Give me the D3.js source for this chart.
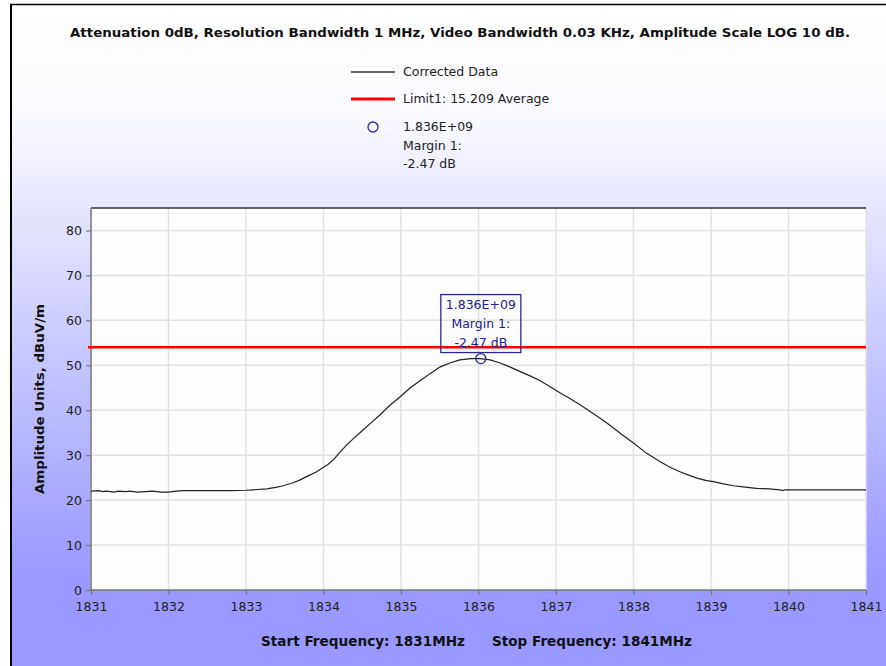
<!DOCTYPE html>
<html><head><meta charset="utf-8">
<script src="https://cdn.jsdelivr.net/npm/d3@7"></script>
<style>html,body{margin:0;padding:0;background:#fff;}svg{display:block;}</style>
</head><body>
<script>
// ---- data ----
const titleText = "Attenuation 0dB, Resolution Bandwidth 1 MHz, Video Bandwidth 0.03 KHz, Amplitude Scale LOG 10 dB.";
const freqs = [1831.0,1831.1,1831.15,1831.2,1831.3,1831.35,1831.45,1831.5,1831.6,1831.7,1831.8,1831.9,1832.0,1832.1,1832.2,1832.4,1832.6,1832.8,1833.0,1833.1,1833.27,1833.4,1833.48,1833.6,1833.7,1833.8,1833.9,1833.98,1834.06,1834.13,1834.2,1834.3,1834.4,1834.51,1834.62,1834.73,1834.85,1834.99,1835.12,1835.25,1835.38,1835.5,1835.63,1835.76,1835.9,1836.02,1836.15,1836.28,1836.41,1836.54,1836.66,1836.79,1836.92,1837.05,1837.18,1837.31,1837.44,1837.57,1837.7,1837.85,1838.0,1838.17,1838.34,1838.47,1838.6,1838.72,1838.82,1838.93,1839.03,1839.16,1839.29,1839.44,1839.59,1839.75,1839.89,1839.92,1839.95,1840.2,1840.6,1841.0];
const amplitudes = [22.0,22.1,21.9,22.0,21.8,22.0,21.9,22.0,21.8,21.9,22.0,21.8,21.8,22.0,22.1,22.1,22.1,22.1,22.2,22.3,22.5,22.9,23.2,23.8,24.5,25.4,26.2,27.1,28.0,29.0,30.4,32.3,33.9,35.6,37.3,39.0,41.0,43.0,45.0,46.6,48.2,49.6,50.5,51.2,51.5,51.5,51.2,50.5,49.6,48.6,47.7,46.6,45.3,43.9,42.6,41.2,39.7,38.2,36.6,34.6,32.7,30.4,28.6,27.3,26.3,25.5,24.9,24.4,24.1,23.6,23.2,22.9,22.6,22.5,22.3,22.1,22.3,22.3,22.3,22.3];
const limitValue = 54;
const markerFreq = 1836.03;
const markerValue = 51.5;
const markerLines = ["1.836E+09", "Margin 1:", "-2.47 dB"];
const legendLabels = ["Corrected Data", "Limit1: 15.209 Average"];
const xTicks = [1831,1832,1833,1834,1835,1836,1837,1838,1839,1840,1841];
const yTicks = [0,10,20,30,40,50,60,70,80];
const yLabel = "Amplitude Units, dBuV/m";
const startLabel = "Start Frequency: 1831MHz";
const stopLabel = "Stop Frequency: 1841MHz";

// ---- layout ----
const W = 886, H = 666;
const L = 91, R = 866, T = 208, B = 590;
const svg = d3.select("body").append("svg").attr("width", W).attr("height", H);
const defs = svg.append("defs");
const grad = defs.append("linearGradient").attr("id","bg").attr("gradientUnits","userSpaceOnUse")
  .attr("x1",0).attr("y1",0).attr("x2",0).attr("y2",H);
grad.append("stop").attr("offset",0).attr("stop-color","#ffffff");
grad.append("stop").attr("offset",0.165).attr("stop-color","#fbfbff");
grad.append("stop").attr("offset",0.86).attr("stop-color","#9999ff");
grad.append("stop").attr("offset",1).attr("stop-color","#9999ff");

svg.append("rect").attr("x",11).attr("y",5).attr("width",W-11).attr("height",H-5).attr("fill","url(#bg)");
svg.append("line").attr("x1",11).attr("x2",11).attr("y1",4).attr("y2",H).attr("stroke","#000").attr("stroke-width",2);
svg.append("line").attr("x1",10).attr("x2",W).attr("y1",4.5).attr("y2",4.5).attr("stroke","#000").attr("stroke-width",1.5);

const x = d3.scaleLinear().domain([1831,1841]).range([L,R]);
const y = d3.scaleLinear().domain([0,85]).range([B,T]);

// plot background
svg.append("rect").attr("x",L).attr("y",T).attr("width",R-L).attr("height",B-T).attr("fill","#fdfdfd");

// grid
const g = svg.append("g");
g.selectAll(".vg").data(xTicks).join("line")
  .attr("x1",d=>x(d)).attr("x2",d=>x(d)).attr("y1",T).attr("y2",B)
  .attr("stroke","#e2e2e2").attr("stroke-width",1.5);
g.selectAll(".hg").data(yTicks.filter(d=>d>0)).join("line")
  .attr("x1",L).attr("x2",R).attr("y1",d=>y(d)).attr("y2",d=>y(d))
  .attr("stroke","#e2e2e2").attr("stroke-width",1.5);
// top border of plot
svg.append("line").attr("x1",L).attr("x2",R).attr("y1",T).attr("y2",T).attr("stroke","#333").attr("stroke-width",1.5);

// axes
const xAxis = d3.axisBottom(x).tickValues(xTicks).tickFormat(d3.format("d")).tickSize(5).tickPadding(7);
const yAxis = d3.axisLeft(y).tickValues(yTicks).tickFormat(d3.format("d")).tickSize(5).tickPadding(4);
const gx = svg.append("g").attr("transform",`translate(0,${B})`).call(xAxis);
const gy = svg.append("g").attr("transform",`translate(${L},0)`).call(yAxis);
[gx,gy].forEach(a=>{
  a.select(".domain").attr("stroke","#777").attr("stroke-width",1.5);
  a.selectAll(".tick line").attr("stroke","#777").attr("stroke-width",1.2);
  a.selectAll(".tick text").attr("fill","#222").style("font-family","DejaVu Sans, sans-serif").style("font-size","12.5px");
});
gx.select(".domain").attr("d",`M${L},0H${R}`);
gy.select(".domain").attr("d",`M0,${B}V${T}`);

// limit line
svg.append("line").attr("x1",L-3).attr("x2",R).attr("y1",y(limitValue)).attr("y2",y(limitValue))
  .attr("stroke","#ff0000").attr("stroke-width",2.5);

// data line
const line = d3.line().x((d,i)=>x(freqs[i])).y(d=>y(d));
svg.append("path").datum(amplitudes).attr("d",line).attr("fill","none").attr("stroke","#222").attr("stroke-width",1.2);

// marker
const mx = x(markerFreq), my = y(markerValue);
svg.append("circle").attr("cx",mx).attr("cy",my).attr("r",5).attr("fill","none").attr("stroke","#2a2a9a").attr("stroke-width",1.3);
svg.append("rect").attr("x",mx-40).attr("y",my-64).attr("width",80).attr("height",58)
  .attr("fill","none").attr("stroke","#2a2a8a").attr("stroke-width",1.3);
svg.append("g").selectAll("text").data(markerLines).join("text")
  .attr("x",mx).attr("y",(d,i)=>my-54+i*19).attr("dy","0.35em").attr("text-anchor","middle")
  .attr("fill","#20208a").style("font-family","DejaVu Sans, sans-serif").style("font-size","12.5px").text(d=>d);

// title
svg.append("text").attr("x",460).attr("y",37).attr("text-anchor","middle")
  .attr("textLength",780).attr("lengthAdjust","spacingAndGlyphs")
  .style("font-family","DejaVu Sans, sans-serif").style("font-weight","bold").style("font-size","13px")
  .attr("fill","#111").text(titleText);

// legend
svg.append("line").attr("x1",351).attr("x2",395).attr("y1",72).attr("y2",72).attr("stroke","#333").attr("stroke-width",1.3);
svg.append("line").attr("x1",351).attr("x2",395).attr("y1",99).attr("y2",99).attr("stroke","#ff0000").attr("stroke-width",3);
svg.append("circle").attr("cx",373).attr("cy",127).attr("r",5).attr("fill","none").attr("stroke","#2a2a9a").attr("stroke-width",1.3);
const legTexts = [[legendLabels[0],72],[legendLabels[1],99],[markerLines[0],127],[markerLines[1],146],[markerLines[2],164]];
svg.append("g").selectAll("text").data(legTexts).join("text")
  .attr("x",403).attr("y",d=>d[1]).attr("dy","0.35em").attr("fill","#222")
  .style("font-family","DejaVu Sans, sans-serif").style("font-size","12.5px").text(d=>d[0]);

// y label
svg.append("text").attr("transform",`translate(44,${(T+B)/2}) rotate(-90)`).attr("text-anchor","middle")
  .attr("textLength",190).attr("lengthAdjust","spacingAndGlyphs")
  .style("font-family","DejaVu Sans, sans-serif").style("font-weight","bold").style("font-size","13px")
  .attr("fill","#111").text(yLabel);

// bottom labels
svg.append("text").attr("x",261).attr("y",646).attr("textLength",204).attr("lengthAdjust","spacingAndGlyphs")
  .style("font-family","DejaVu Sans, sans-serif").style("font-weight","bold").style("font-size","13.5px")
  .attr("fill","#111").text(startLabel);
svg.append("text").attr("x",492).attr("y",646).attr("textLength",200).attr("lengthAdjust","spacingAndGlyphs")
  .style("font-family","DejaVu Sans, sans-serif").style("font-weight","bold").style("font-size","13.5px")
  .attr("fill","#111").text(stopLabel);
</script>
</body></html>
